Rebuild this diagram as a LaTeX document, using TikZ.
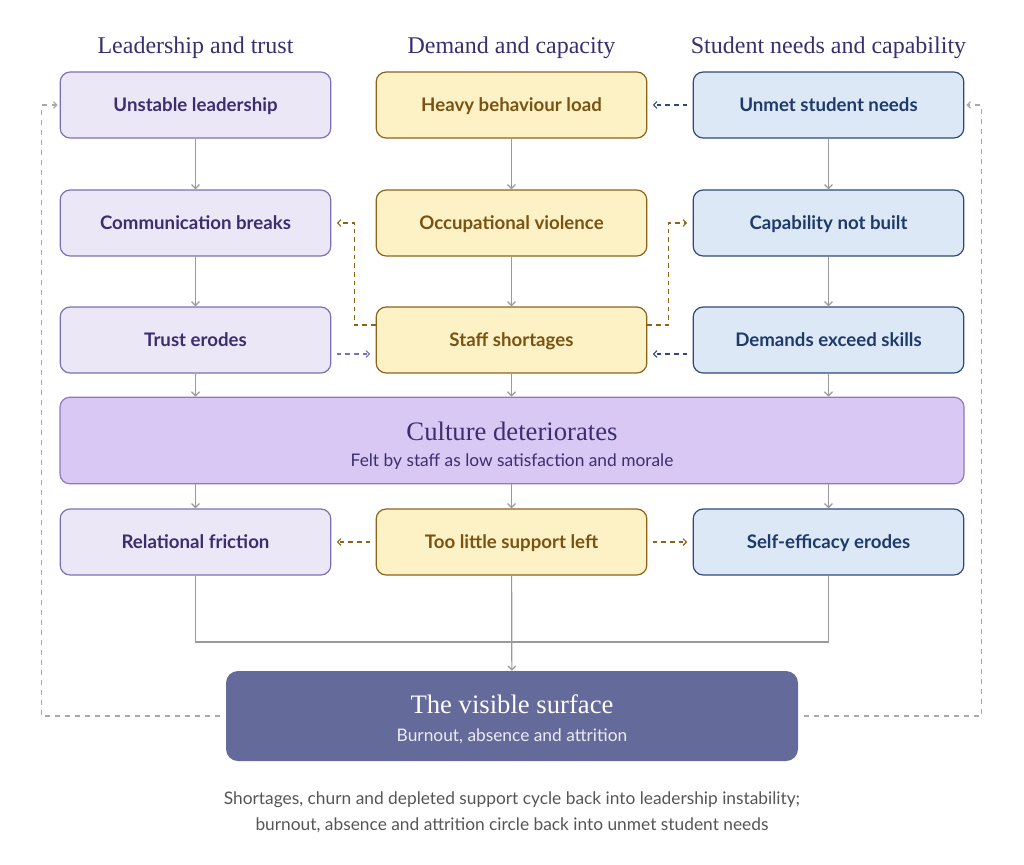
\documentclass[tikz,border=0pt]{standalone}
\usepackage{fontspec}
\setsansfont{Lato}
\renewcommand{\familydefault}{\sfdefault}
\newfontfamily\headfont{Liberation Serif}
\usetikzlibrary{arrows.meta, positioning}

\definecolor{leadfill}{HTML}{ECE7F7}
\definecolor{leadline}{HTML}{7B70B5}
\definecolor{leadtext}{HTML}{3A2E6E}
\definecolor{demfill}{HTML}{FDF1C6}
\definecolor{demline}{HTML}{8C6418}
\definecolor{demtext}{HTML}{7A5312}
\definecolor{stufill}{HTML}{DDE8F7}
\definecolor{stuline}{HTML}{2D4A7A}
\definecolor{stutext}{HTML}{1E3A6A}
\definecolor{culfill}{HTML}{D9C8F3}
\definecolor{culline}{HTML}{8B7AC2}
\definecolor{surfill}{HTML}{646A9A}
\definecolor{flowgray}{HTML}{9A9A9A}
\definecolor{footgray}{HTML}{555555}

\begin{document}
\begin{tikzpicture}[x=0.75pt, y=-0.75pt,
  box/.style={draw, rounded corners=7.5pt, line width=0.9pt, align=center, minimum height=49.5pt, minimum width=203pt, text depth=1pt, font=\fontsize{14}{16}\selectfont\bfseries},
  lead/.style={box, fill=leadfill, draw=leadline, text=leadtext},
  dem/.style={box, fill=demfill, draw=demline, text=demtext},
  stu/.style={box, fill=stufill, draw=stuline, text=stutext},
  head/.style={font=\headfont\fontsize{18}{20}\selectfont, text=leadtext},
  flow/.style={draw=flowgray, line width=0.9pt, -{Straight Barb[length=3pt,width=6pt]}},
  plain/.style={draw=flowgray, line width=0.9pt},
  cross/.style={line width=0.9pt, dash pattern=on 3.5pt off 3pt, -{Straight Barb[length=2.5pt,width=5pt]}, shorten <=4pt, shorten >=4pt},
  back/.style={draw=flowgray!85, line width=0.9pt, dash pattern=on 4pt off 3.5pt, -{Straight Barb[length=2.5pt,width=5pt]}}
]
\useasboundingbox (0,0) rectangle (1024,864);

% Column headings
\node[head] (hlead) at (195.5,48) {Leadership and trust};
\node[head] (hdem) at (511.5,48) {Demand and capacity};
\node[head] (hstu) at (828.5,48) {Student needs and capability};

% Leadership and trust
\node[lead] (unstable) at (195.5,105) {Unstable leadership};
\node[lead] (comm) at (195.5,223) {Communication breaks};
\node[lead] (trust) at (195.5,340) {Trust erodes};

% Demand and capacity
\node[dem] (heavy) at (511.5,105) {Heavy behaviour load};
\node[dem] (violence) at (511.5,223) {Occupational violence};
\node[dem] (shortage) at (511.5,340) {Staff shortages};

% Student needs and capability
\node[stu] (unmet) at (828.5,105) {Unmet student needs};
\node[stu] (capab) at (828.5,223) {Capability not built};
\node[stu] (skills) at (828.5,340) {Demands exceed skills};

% Shared culture band
\node[draw=culline, fill=culfill, line width=0.9pt, rounded corners=7.5pt, minimum width=678pt, minimum height=65pt, align=center, text=leadtext]
  (culture) at (512,440.5)
  {{\headfont\fontsize{20}{22}\selectfont\rule{0pt}{21.5pt}Culture deteriorates}\\[8pt]{\fontsize{13}{15}\selectfont Felt by staff as low satisfaction and morale}};

% Consequences
\node[lead] (friction) at (195.5,542) {Relational friction};
\node[dem] (support) at (511.5,542) {Too little support left};
\node[stu] (efficacy) at (828.5,542) {Self-efficacy erodes};

% Surface
\node[fill=surfill, rounded corners=9pt, minimum width=429pt, minimum height=67.5pt, align=center, text=white]
  (surface) at (512,716)
  {{\headfont\fontsize{20}{22}\selectfont\rule{0pt}{19.5pt}The visible surface}\\[9pt]{\fontsize{13}{15}\selectfont\color{white!88!surfill} Burnout, absence and attrition}};

% Footnote
\node[align=center, text=footgray, font=\fontsize{13}{19.5}\selectfont] (foot) at (512,812)
  {Shortages, churn and depleted support cycle back into leadership instability;\\burnout, absence and attrition circle back into unmet student needs};

% Vertical flow
\draw[flow] (unstable) -- (comm);
\draw[flow] (comm) -- (trust);
\draw[flow] (heavy) -- (violence);
\draw[flow] (violence) -- (shortage);
\draw[flow] (unmet) -- (capab);
\draw[flow] (capab) -- (skills);
\draw[flow] (trust) -- (trust |- culture.north);
\draw[flow] (shortage) -- (shortage |- culture.north);
\draw[flow] (skills) -- (skills |- culture.north);
\draw[flow] (culture.south -| friction) -- (friction);
\draw[flow] (culture.south -| support) -- (support);
\draw[flow] (culture.south -| efficacy) -- (efficacy);

% Merge into surface
\coordinate (merge) at (512,642);
\draw[plain] (friction.south) |- (merge) -| (efficacy.south);
\draw[flow] (support) -- (surface);

% Cross links
\draw[cross, draw=stuline] (unmet) -- (heavy);
\draw[cross, draw=demline, shorten <=0pt] ([yshift=11.25pt]shortage.west) -- ++(-21,0) |- (comm);
\draw[cross, draw=demline, shorten <=0pt] ([yshift=11.25pt]shortage.east) -- ++(21,0) |- (capab);
\draw[cross, draw=leadline] ([yshift=-10.5pt]trust.east) -- ([yshift=-10.5pt]shortage.west);
\draw[cross, draw=stuline] ([yshift=-10.5pt]skills.west) -- ([yshift=-10.5pt]shortage.east);
\draw[cross, draw=demline] (support) -- (friction);
\draw[cross, draw=demline] (support) -- (efficacy);

% Feedback loops
\draw[back, shorten <=4pt, shorten >=1.5pt] (surface.west) -| ([xshift=-13.5pt]unstable.west) -- (unstable.west);
\draw[back, shorten <=4pt, shorten >=1.5pt] (surface.east) -| ([xshift=12.75pt]unmet.east) -- (unmet.east);

\end{tikzpicture}
\end{document}
